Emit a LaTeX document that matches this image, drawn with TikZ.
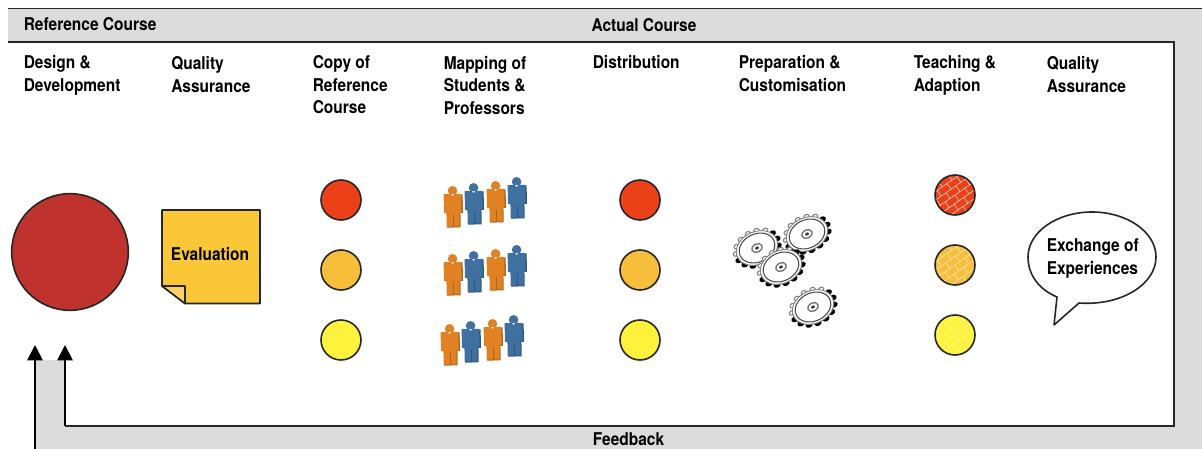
\documentclass[tikz,border=0pt]{standalone}
\usepackage{fontspec}
\setmainfont{TeX Gyre Heros}[FakeStretch=0.88]
\usetikzlibrary{arrows.meta}
\definecolor{bandgray}{HTML}{DCDCDC}
\definecolor{bigred}{HTML}{C0322E}
\definecolor{cred}{HTML}{EC4019}
\definecolor{corange}{HTML}{F6BE3A}
\definecolor{cyellow}{HTML}{FFF23C}
\definecolor{noteyellow}{HTML}{FAC739}
\definecolor{porange}{HTML}{E08224}
\definecolor{pblue}{HTML}{3F709F}
\tikzset{
  x=0.75pt,y=-0.75pt,
  lab/.style={font=\bfseries\fontsize{13.2}{16.9}\selectfont,align=left,anchor=base west,inner sep=0pt,text=black},
  ctr/.style={lab,anchor=center,align=center},
  dot/.style={circle,draw=black!85,line width=1.2pt,minimum size=30pt,inner sep=0pt},
  frameline/.style={draw=black!85,line width=1.4pt},
  arrowline/.style={draw=black,line width=1.4pt,-{Triangle[length=11.5pt,width=11.5pt,fill=black]}},
}
\newcommand{\personat}[3]{%
  \begin{scope}[shift={(#1,#2)},rotate=1]
    \fill[#3!78!black] (-9,7.5) -- (9.5,7.5) -- (9.5,26) -- (7,26) -- (7,40.5) -- (-6.5,40.5) -- (-6.5,26) -- (-9,26) -- cycle;
    \fill[#3] (-9.5,7) -- (8.2,7) -- (8.2,25.5) -- (6,25.5) -- (6,39.5) -- (0.6,39.5) -- (0.6,27) -- (-0.6,27) -- (-0.6,39.5) -- (-7,39.5) -- (-7,25.5) -- (-9.5,25.5) -- cycle;
    \fill[#3] (-0.5,3.8) circle[radius=4.8];
    \fill[white,opacity=.8] (-2,7.2) -- (1,7.2) -- (-0.5,9) -- cycle;
  \end{scope}}
\newcommand{\peoplerow}[2]{%
  \personat{453+#1}{187+#2}{porange}
  \personat{474+#1}{184+#2}{pblue}
  \personat{496+#1}{182+#2}{porange}
  \personat{517+#1}{178+#2}{pblue}}
\newcommand{\gearat}[2]{%
  \begin{scope}[shift={(#1,#2)},rotate=25,yscale=0.76]
    \foreach \a in {0,24,...,336}{
      \pgfmathsetmacro{\sh}{sin(\a+15)>-0.2 ? 1 : 0}
      \ifdim\sh pt>0.5pt
        \fill[black] (\a:22) circle[radius=3.8];
      \else
        \filldraw[fill=white,draw=black!50,line width=.8pt] (\a:22) circle[radius=2.9];
      \fi
    }
    \filldraw[fill=white,draw=black!50,line width=.7pt] (0,0) circle[radius=21.5];
    \draw[black!70,line width=.8pt] (0,0) circle[radius=18.5];
    \draw[black!55,line width=1pt] (0,0) circle[radius=5.5];
    \fill[black!75] (0,0) circle[radius=2];
  \end{scope}}
\newcommand{\brickfill}[3]{%
  \begin{scope}
    \clip (#1,#2) circle[radius=20];
    \begin{scope}[shift={(#1,#2)},rotate=35]
      \foreach \r in {-3,...,3}{
        \draw[white,opacity=#3,line width=.5pt] (-30,{\r*7}) -- (30,{\r*7});
        \pgfmathsetmacro{\off}{mod(\r+10,2)*6}
        \foreach \c in {-3,...,3}
          \draw[white,opacity=#3,line width=.5pt] ({\c*12+\off},{\r*7}) -- ({\c*12+\off},{\r*7+7});
      }
    \end{scope}
  \end{scope}}
\begin{document}
\begin{tikzpicture}
\useasboundingbox (0,0) rectangle (1202,449);
% grey frame
\fill[bandgray] (8,9) -- (1202,9) -- (1202,449) -- (35,449) -- (35,360) -- (65,360) -- (65,426) -- (1174,426) -- (1174,42) -- (8,42) -- cycle;
\coordinate (tl) at (8,8.5);
\coordinate (tr) at (1202,8.5);
\coordinate (il) at (8,42);
\coordinate (ir) at (1174,42);
\coordinate (br) at (1174,426);
\coordinate (bl) at (65,426);
\coordinate (fbtip) at (65,345);
\coordinate (instart) at (35,449);
\coordinate (intip) at (35,345);
\draw[frameline] (tl) -- (tr);
\draw[frameline] (il) -- (ir) -- (br) -- (bl);
\draw[arrowline] (bl) -- (fbtip);
\draw[arrowline] (instart) -- (intip);
% labels
\node[lab] (refc) at (23.5,31) {Reference Course};
\node[ctr] (actc) at (644,25) {Actual Course};
\node[ctr] (fb) at (628.5,439) {Feedback};
\node[lab] (l1) at (23.5,91.5) {Design \&\\Development};
\node[lab] (l2) at (171,92.5) {Quality\\Assurance};
\node[lab] (l3) at (312.5,114) {Copy of\\Reference\\Course};
\node[lab] (l4) at (443.5,114.5) {Mapping of\\Students \&\\Professors};
\node[lab] (l5) at (592.5,69) {Distribution};
\node[lab] (l6) at (738.5,91.5) {Preparation \&\\Customisation};
\node[lab] (l7) at (913.5,91.5) {Teaching \&\\Adaption};
\node[lab] (l8) at (1046.5,92.5) {Quality\\Assurance};
% big circle
\node[circle,fill=bigred,draw=black!85,line width=1.2pt,minimum size=87.5pt,inner sep=0pt] (big) at (70,252) {};
% note
\filldraw[fill=noteyellow,draw=black!85,line width=1.2pt,line join=round] (162,210) -- (260,210) -- (260,303.5) -- (185,303.5) -- (162,286) -- cycle;
\draw[black!85,line width=1.2pt,line join=round,fill=noteyellow!80!white] (162,286) -- (185,286) -- (185,303.5) -- cycle;
\node[ctr] (ev) at (210,254) {Evaluation};
% circles
\node[dot,fill=cred] (a1) at (341,200) {};
\node[dot,fill=corange] (a2) at (341,270) {};
\node[dot,fill=cyellow] (a3) at (341,340) {};
\node[dot,fill=cred] (b1) at (640,200) {};
\node[dot,fill=corange] (b2) at (640,270) {};
\node[dot,fill=cyellow] (b3) at (640,340) {};
% brick circles
\fill[cred] (955,195) circle[radius=20];
\brickfill{955}{195}{.7}
\node[dot] (c1) at (955,195) {};
\fill[corange] (955,265) circle[radius=20];
\brickfill{955}{265}{.6}
\node[dot] (c2) at (955,265) {};
\fill[cyellow] (955,335) circle[radius=20];
\brickfill{955}{335}{.3}
\node[dot] (c3) at (955,335) {};
% people
\peoplerow{0}{0}
\peoplerow{0}{68}
\peoplerow{-3}{138}
% gears
\gearat{757}{248}
\gearat{807}{234}
\gearat{781}{267}
\gearat{813}{307}
% bubble
\filldraw[fill=white,draw=black!85,line width=1.2pt,line join=round]
  (1057,297) .. controls (1038,289) and (1028,274) .. (1028,257)
  .. controls (1028,232) and (1057,212) .. (1092,212)
  .. controls (1127,212) and (1156,232) .. (1156,257)
  .. controls (1156,284) and (1122,306) .. (1079,303)
  -- (1054,325) -- cycle;
\node[lab] (ex) at (1046.5,274) {Exchange of\\Experiences};
\end{tikzpicture}
\end{document}
